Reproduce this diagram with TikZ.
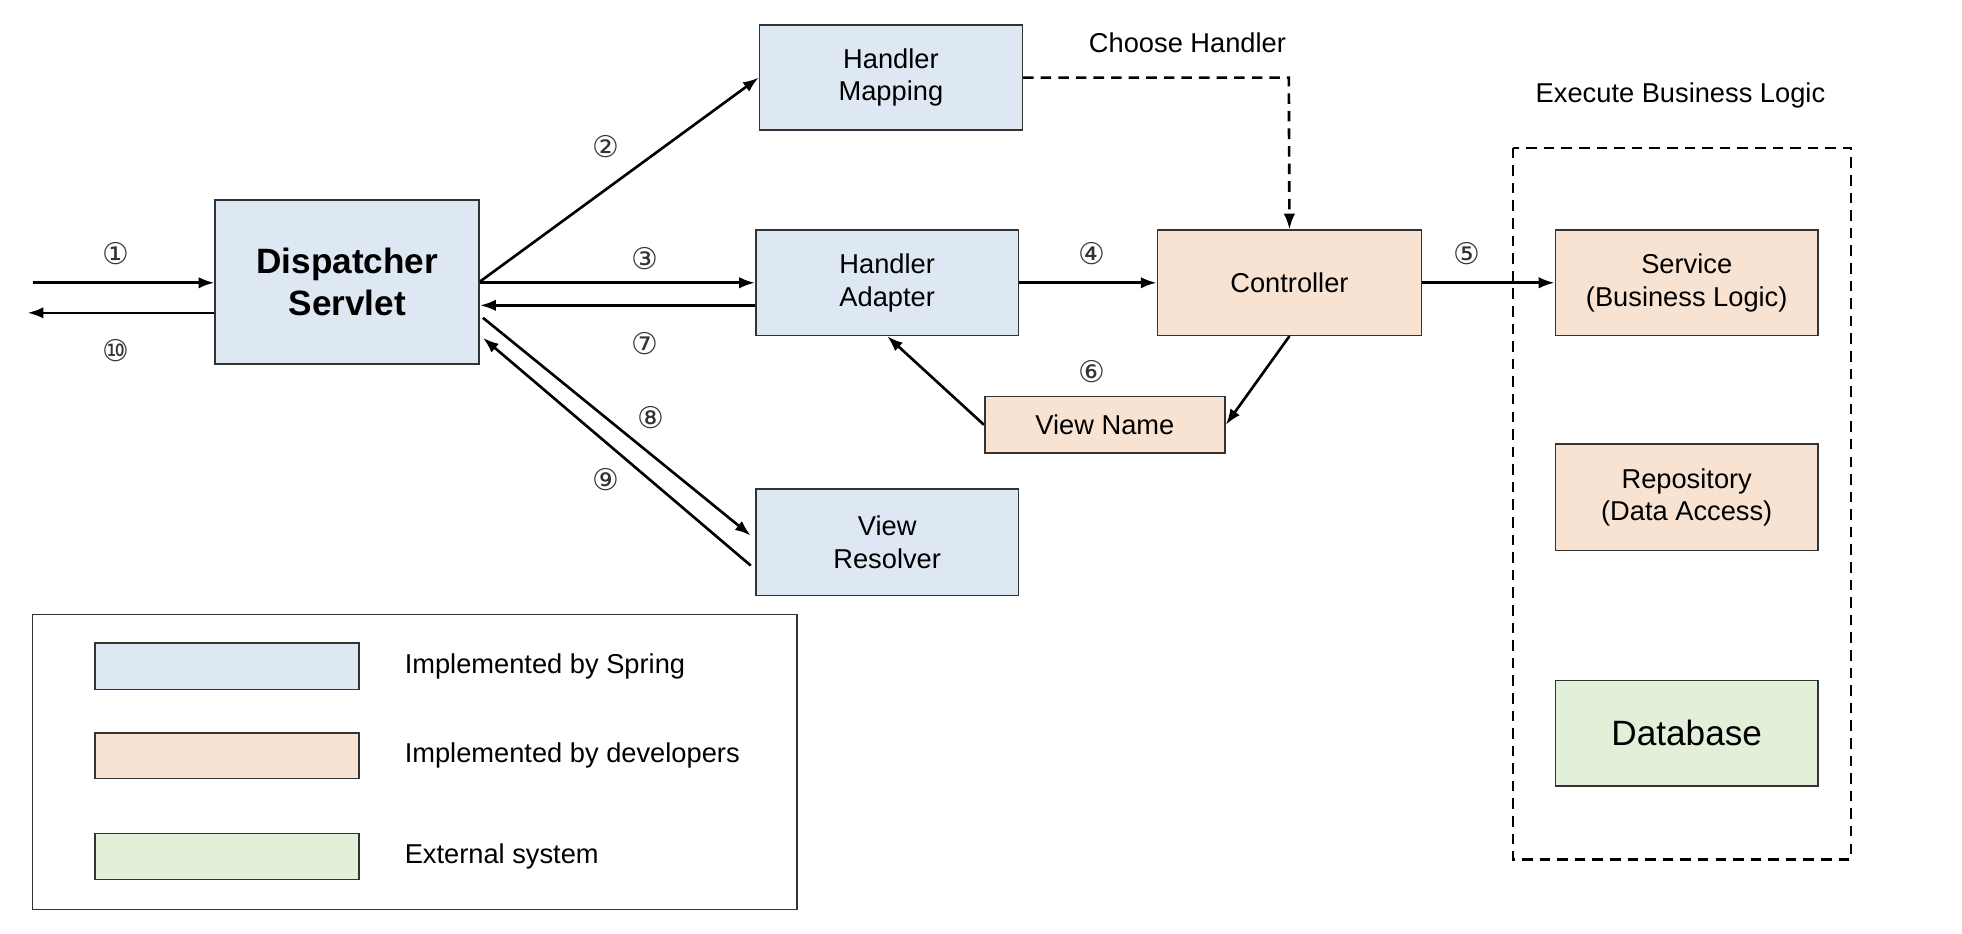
\documentclass[tikz,border=0pt]{standalone}
\usepackage{fontspec}
\setmainfont{Liberation Sans}
\newfontfamily\circfont{DejaVu Sans}
\usetikzlibrary{arrows.meta}
\definecolor{sb}{HTML}{DEE8F3}
\definecolor{so}{HTML}{F8E3D3}
\definecolor{sg}{HTML}{E2EFD9}
\definecolor{bd}{HTML}{333333}
\begin{document}
\begin{tikzpicture}[x=0.05cm,y=-0.05cm,
  box/.style={draw=bd,line width=1.8pt,align=center,inner sep=0pt,font=\fontsize{31}{37}\selectfont},
  arr/.style={-{Latex[length=18pt,width=13pt]},line width=3pt,black},
  dsh/.style={dash pattern=on 12pt off 8pt},
  num/.style={font=\circfont\fontsize{34}{36}\selectfont,text=black!80},
  lab/.style={font=\fontsize{31}{37}\selectfont}]
\useasboundingbox (0,0) rectangle (1568,746);
\node[box,fill=sb,minimum width=211*0.05cm,minimum height=131*0.05cm,font=\bfseries\fontsize{40}{48}\selectfont] (ds) at (277.5,225.5) {Dispatcher\\Servlet};
\node[box,fill=sb,minimum width=210*0.05cm,minimum height=84*0.05cm] (hm) at (712,62) {Handler\\Mapping};
\node[box,fill=sb,minimum width=210*0.05cm,minimum height=84*0.05cm] (ha) at (709,226) {Handler\\Adapter};
\node[box,fill=sb,minimum width=210*0.05cm,minimum height=85*0.05cm] (vr) at (709,433.5) {View\\Resolver};
\node[box,fill=so,minimum width=211*0.05cm,minimum height=84*0.05cm] (ct) at (1030.5,226) {Controller};
\node[box,fill=so,minimum width=192*0.05cm,minimum height=45*0.05cm] (vn) at (883,339.5) {View Name};
\node[box,fill=so,minimum width=210*0.05cm,minimum height=84*0.05cm] (sv) at (1348,226) {Service\\(Business Logic)};
\node[box,fill=so,minimum width=210*0.05cm,minimum height=85*0.05cm] (rp) at (1348,397.5) {Repository\\(Data Access)};
\node[box,fill=sg,minimum width=210*0.05cm,minimum height=84*0.05cm,font=\fontsize{40}{48}\selectfont] (db) at (1348,586) {Database};
\draw[dsh,line width=2.6pt] (1209,118) rectangle (1479,687);
\node[lab] (ebl) at (1343,76) {Execute Business Logic};
\node[lab] (chh) at (949,34) {Choose Handler};
% legend
\draw[line width=1.8pt,draw=bd] (26,491) rectangle (637,727);
\node[box,fill=sb,minimum width=211*0.05cm,minimum height=37*0.05cm] (l1) at (181.5,532.5) {};
\node[box,fill=so,minimum width=211*0.05cm,minimum height=36*0.05cm] (l2) at (181.5,604) {};
\node[box,fill=sg,minimum width=211*0.05cm,minimum height=37*0.05cm] (l3) at (181.5,684.5) {};
\node[lab,anchor=west] (t1) at (321,532.5) {Implemented by Spring};
\node[lab,anchor=west] (t2) at (321,604) {Implemented by developers};
\node[lab,anchor=west] (t3) at (321,684.5) {External system};
% arrows
\coordinate (in1) at (26,226);
\coordinate (out10) at (22,250);
\draw[arr] (in1) -- (ds.west |- in1);
\draw[arr] (ds.west |- out10) -- (out10);
\draw[arr] (ds.east |- 0,225) -- (hm.west);
\draw[arr] (ds.east |- 0,226) -- (ha.west |- 0,226);
\draw[arr] (ha.west |- 0,244) -- (ds.east |- 0,244);
\draw[arr] (386,254) -- (600,428);
\draw[arr] (600,452) -- (386,270);
\draw[arr] (ha.east) -- (ct.west);
\draw[arr] (ct.east) -- (sv.west);
\draw[arr,dsh] (hm.east) -- (1030,62) -- (ct.north);
\draw[arr] (ct.south) -- (vn.east);
\draw[arr] (vn.west) -- (ha.south);
% numbers
\node[num] (n1) at (93,203) {①};
\node[num] (n10) at (93,280) {⑩};
\node[num] (n2) at (484,117) {②};
\node[num] (n3) at (515,207) {③};
\node[num] (n7) at (515,275) {⑦};
\node[num] (n8) at (520,334) {⑧};
\node[num] (n9) at (484,383) {⑨};
\node[num] (n4) at (873,203) {④};
\node[num] (n5) at (1172,203) {⑤};
\node[num] (n6) at (873,297) {⑥};
\end{tikzpicture}
\end{document}
